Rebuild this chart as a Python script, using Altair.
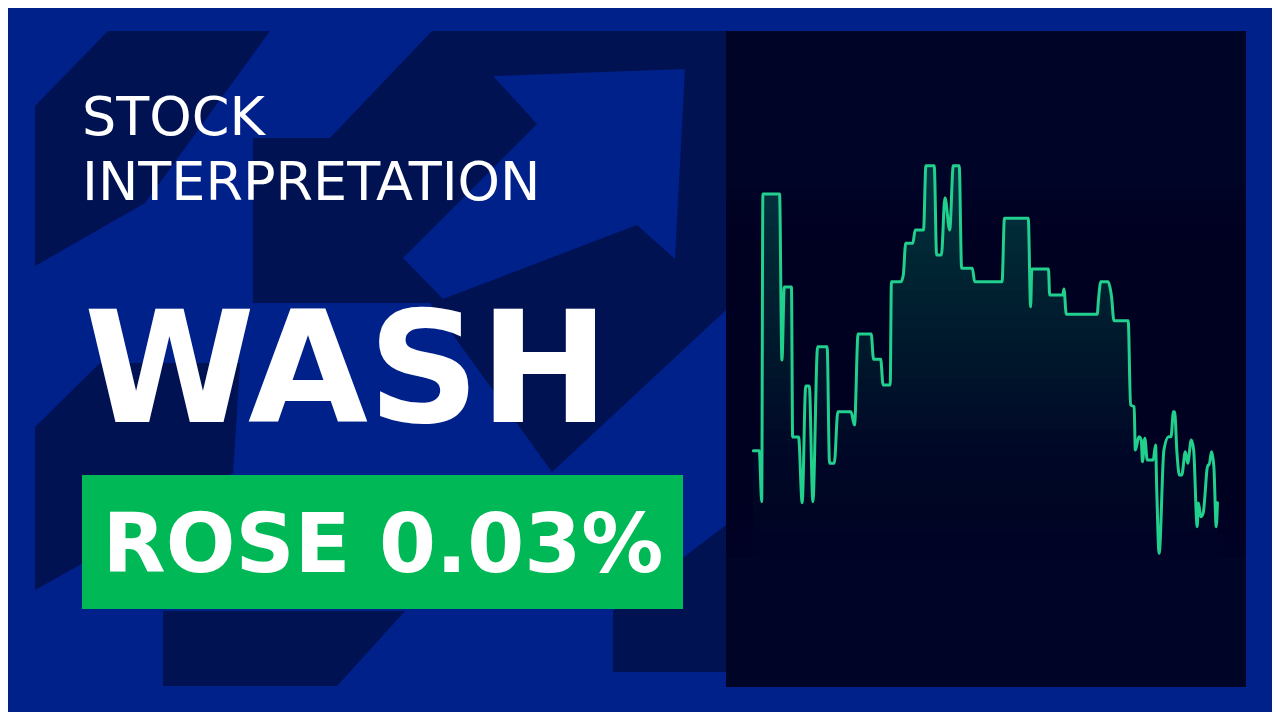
import altair as alt
import pandas as pd

# ---------------- data ----------------
minutes = [0, 5, 7, 8, 22, 24, 26, 32, 33, 38, 41, 44, 47, 50, 54, 62, 64, 68, 71, 82,
           85, 88, 99, 101, 107, 109, 115, 116, 124, 126, 128, 134, 136, 143, 145, 152,
           154, 158, 161, 165, 168, 173, 175, 184, 186, 209, 211, 231, 233, 234, 248,
           249, 260, 261, 263, 289, 290, 292, 298, 301, 303, 315, 317, 320, 321, 324,
           326, 327, 329, 331, 336, 338, 339, 341, 345, 349, 351, 353, 354, 356, 358,
           360, 363, 365, 368, 370, 373, 374, 376, 378, 382, 383, 385, 387, 389, 390]
prices = [29.197, 29.197, 28.993, 30.224, 30.224, 29.560, 29.852, 29.852, 29.252, 29.252,
          28.989, 29.456, 29.456, 28.993, 29.613, 29.613, 29.147, 29.147, 29.353, 29.353,
          29.300, 29.664, 29.664, 29.563, 29.563, 29.460, 29.460, 29.873, 29.873, 29.900,
          30.027, 30.027, 30.080, 30.080, 30.337, 30.337, 29.980, 29.980, 30.209, 30.080,
          30.337, 30.337, 29.927, 29.927, 29.873, 29.873, 30.127, 30.127, 29.773, 29.924,
          29.924, 29.820, 29.820, 29.844, 29.743, 29.743, 29.800, 29.873, 29.873, 29.813,
          29.717, 29.717, 29.380, 29.373, 29.200, 29.253, 29.240, 29.153, 29.247, 29.160,
          29.160, 29.220, 29.040, 28.787, 29.200, 29.253, 29.253, 29.353, 29.353, 29.187,
          29.100, 29.100, 29.193, 29.147, 29.240, 29.200, 28.893, 28.988, 28.933, 28.948,
          29.140, 29.140, 29.193, 29.133, 28.893, 28.989]
assert len(minutes) == len(prices)

ticker = "WASH"
title_lines = ["STOCK", "INTERPRETATION"]
change_label = "ROSE 0.03%"

PRICE_MIN, PRICE_MAX = 28.252, 30.876   # visible price window of the panel
MIN_MIN, MIN_MAX = -23, 414             # visible minute window of the panel

# ---------------- decorative backdrop (arrow shapes, page pixels) ----------------
M = 8  # page margin
dark_shapes = [
    [(35, 106), (108, 31), (270, 31), (145, 203), (35, 266)],
    [(253, 138), (330, 138), (432, 31), (726, 31), (726, 310), (552, 472), (430, 303), (253, 303)],
    [(35, 427), (100, 363), (240, 363), (233, 473), (160, 520), (35, 590)],
    [(163, 611), (405, 611), (337, 686), (163, 686)],
    [(613, 611), (726, 525), (726, 672), (613, 672)],
]
light_shapes = [
    [(403, 258), (537, 124), (493, 76), (685, 69), (675, 259), (637, 225), (443, 299)],
]


def features(shapes):
    feats = []
    for poly in shapes:
        ring = [[x - M, y - M] for x, y in poly]
        ring.append(ring[0])
        feats.append({"type": "Feature", "properties": {},
                      "geometry": {"type": "Polygon", "coordinates": [ring]}})
    return {"type": "FeatureCollection", "features": feats}


BG = "#00208a"
DARK = "#011253"
PANEL = "#000426"
LINE = "#22d08e"
GREEN = "#00b956"
FILL = "#05323f"

proj = alt.Projection(type="identity", scale=1, translate=[0, 0])

dark_layer = alt.Chart(
    alt.Data(values=features(dark_shapes), format=alt.DataFormat(property="features", type="json"))
).mark_geoshape(fill=DARK, strokeWidth=0).project(**proj.to_dict())

light_layer = alt.Chart(
    alt.Data(values=features(light_shapes), format=alt.DataFormat(property="features", type="json"))
).mark_geoshape(fill=BG, strokeWidth=0).project(**proj.to_dict())

anchor = pd.DataFrame({"k": [0]})

box = alt.Chart(anchor).mark_rect(color=GREEN).encode(
    x=alt.value(82 - M), x2=alt.value(683 - M), y=alt.value(475 - M), y2=alt.value(609 - M)
)

panel = alt.Chart(anchor).mark_rect(color=PANEL).encode(
    x=alt.value(726 - M), x2=alt.value(1246 - M), y=alt.value(31 - M), y2=alt.value(687 - M)
)

t1 = alt.Chart(anchor).mark_text(
    text=title_lines[0], font="DejaVu Sans", fontSize=54, color="white",
    align="left", baseline="alphabetic"
).encode(x=alt.value(82 - M), y=alt.value(135 - M))

t2 = alt.Chart(anchor).mark_text(
    text=title_lines[1], font="DejaVu Sans", fontSize=54, color="white",
    align="left", baseline="alphabetic"
).encode(x=alt.value(82 - M), y=alt.value(200 - M))

t3 = alt.Chart(anchor).mark_text(
    text=ticker, font="DejaVu Sans", fontSize=155, fontWeight="bold", color="white",
    align="left", baseline="alphabetic"
).encode(x=alt.value(84 - M), y=alt.value(422 - M))

t4 = alt.Chart(anchor).mark_text(
    text=change_label, font="DejaVu Sans", fontSize=82, fontWeight="bold", color="white",
    align="center", baseline="alphabetic"
).encode(x=alt.value(383 - M), y=alt.value(572 - M))

df = pd.DataFrame({"minute": minutes, "price": prices})

xs = alt.Scale(domain=[MIN_MIN, MIN_MAX], range=[726 - M, 1246 - M], nice=False, zero=False)
ys = alt.Scale(domain=[PRICE_MIN, PRICE_MAX], range=[687 - M, 31 - M], nice=False, zero=False)

area = alt.Chart(df).mark_area(
    orient="vertical", interpolate="monotone", fill=FILL, opacity=1
).encode(
    x=alt.X("minute:Q", scale=xs, axis=None),
    y=alt.Y("price:Q", scale=ys, axis=None),
    y2=alt.datum(PRICE_MIN),
)

# fade of the fill towards the panel colour: nested veils of panel colour, each one
# reaching down to the panel floor, so the fill fades linearly without seams
n_bands = 30
fade_top, fade_bottom = 30.25, 28.72
step = (fade_top - fade_bottom) / n_bands
fade = pd.DataFrame({
    "hi": [fade_top - (k - 1) * step for k in range(1, n_bands + 1)],
    "lo": [PRICE_MIN] * n_bands,
    "op": [1.0 / (n_bands - k + 1) for k in range(1, n_bands + 1)],
})
fade_layer = alt.Chart(fade).mark_rect(color=PANEL, strokeWidth=0).encode(
    x=alt.value(726 - M), x2=alt.value(1246 - M),
    y=alt.Y("hi:Q", scale=ys, axis=None), y2="lo:Q",
    opacity=alt.Opacity("op:Q", scale=None, legend=None),
)

line = alt.Chart(df).mark_line(
    color=LINE, strokeWidth=3, interpolate="monotone", strokeJoin="round", strokeCap="round"
).encode(
    x=alt.X("minute:Q", scale=xs, axis=None),
    y=alt.Y("price:Q", scale=ys, axis=None),
)

chart = alt.layer(
    dark_layer, light_layer, box, t1, t2, t3, t4, panel, area, fade_layer, line
).properties(
    width=1264, height=704, padding=0, background=BG,
    autosize=alt.AutoSizeParams(type="none"),
).configure_view(strokeWidth=0, fill=None)

chart.save("out.html", embed_options={"renderer": "svg", "actions": False})
